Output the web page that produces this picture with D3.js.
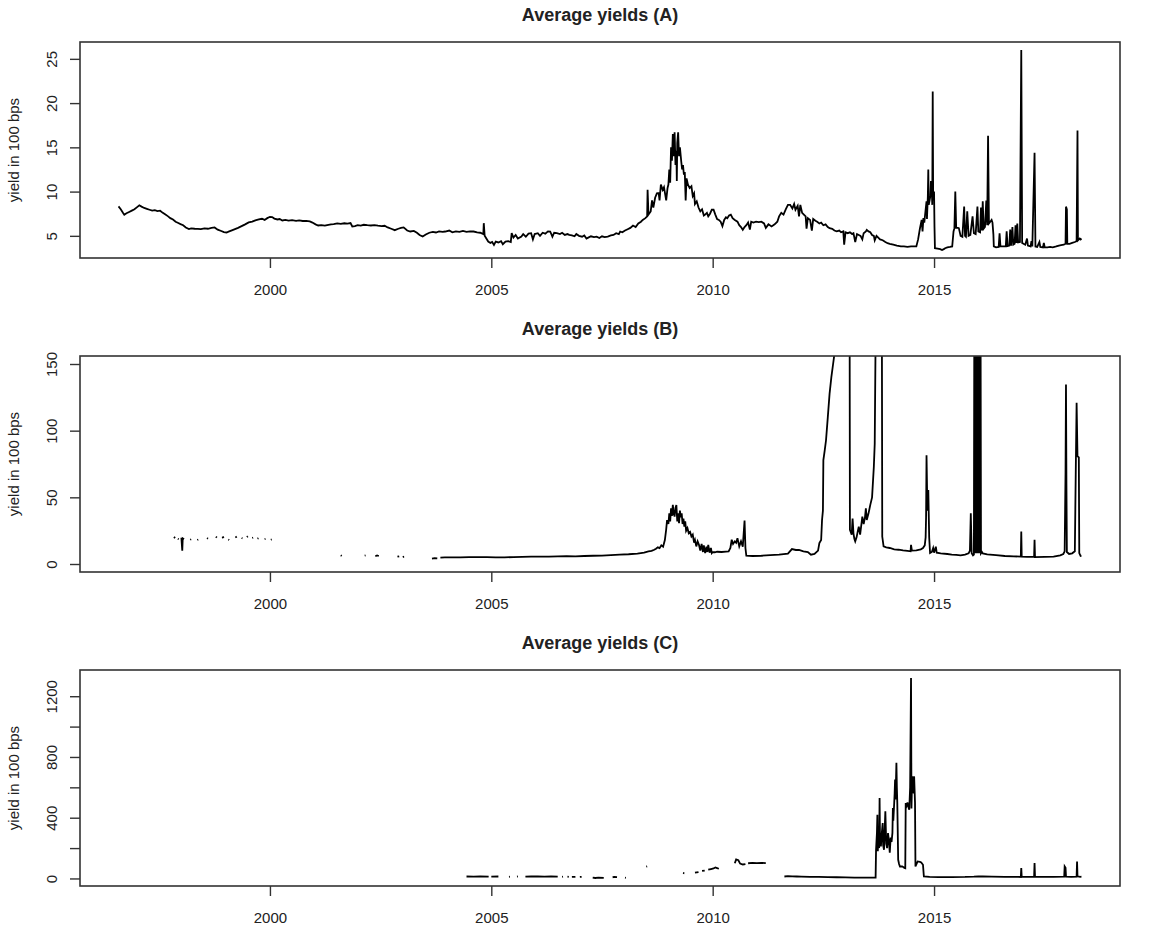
<!DOCTYPE html>
<html>
<head>
<meta charset="utf-8">
<script src="https://cdn.jsdelivr.net/npm/d3@7"></script>
<style>
  body { margin: 0; background: #fff; }
  text { font-family: "Liberation Sans", Arial, sans-serif; fill: #222; }
</style>
</head>
<body>
<div id="chart"></div>
<script>
const svgWidth = 1157;
const svgHeight = 928;

const margin = { left: 80, right: 37 };
const panelTops = [42, 356, 670];
const panelHeight = 216;

// x ticks (years) and y ticks for each panel
const yearTicks = [2000, 2005, 2010, 2015];
const ticksA = [5, 10, 15, 20, 25];
const ticksB = [0, 50, 100, 150];
const ticksC = [0, 200, 400, 600, 800, 1000, 1200];
const labelledC = [0, 400, 800, 1200];
const ylimB = [0, 150];

const titles = ["Average yields (A)", "Average yields (B)", "Average yields (C)"];
const yTitle = "yield in 100 bps";

// [year, yield]; null = missing value (gap in the line)
const seriesA = [
  [1996.58, 8.33], [1996.63, 8.0], [1996.68, 7.6], [1996.71, 7.39], [1996.76, 7.55], [1996.82, 7.7],
  [1996.88, 7.85], [1996.94, 8.0], [1997.0, 8.25], [1997.05, 8.45], [1997.1, 8.3], [1997.16, 8.15],
  [1997.22, 8.05], [1997.28, 7.95], [1997.34, 7.85], [1997.4, 7.9], [1997.46, 7.8], [1997.52, 7.84],
  [1997.58, 7.6], [1997.64, 7.4], [1997.7, 7.2], [1997.75, 7.0], [1997.81, 6.85], [1997.87, 6.6],
  [1997.93, 6.45], [1997.98, 6.33], [1998.04, 6.2], [1998.1, 5.95], [1998.17, 5.76], [1998.22, 5.85],
  [1998.3, 5.8], [1998.37, 5.78], [1998.44, 5.76], [1998.52, 5.85], [1998.6, 5.8], [1998.68, 5.9],
  [1998.75, 5.95], [1998.82, 5.7], [1998.9, 5.55], [1998.96, 5.42], [1999.02, 5.38], [1999.08, 5.5],
  [1999.14, 5.62], [1999.21, 5.76], [1999.28, 5.9], [1999.36, 6.1], [1999.44, 6.3], [1999.52, 6.52],
  [1999.6, 6.6], [1999.67, 6.75], [1999.75, 6.85], [1999.82, 6.93], [1999.88, 6.8], [1999.94, 7.0],
  [2000.0, 7.15], [2000.05, 7.12], [2000.1, 6.95], [2000.17, 6.85], [2000.22, 6.9], [2000.28, 6.74],
  [2000.35, 6.8], [2000.42, 6.72], [2000.5, 6.78], [2000.59, 6.7], [2000.66, 6.75], [2000.74, 6.68],
  [2000.82, 6.7], [2000.9, 6.63], [2000.96, 6.5], [2001.03, 6.3], [2001.09, 6.17], [2001.16, 6.22],
  [2001.24, 6.15], [2001.32, 6.25], [2001.38, 6.3], [2001.44, 6.33], [2001.52, 6.4], [2001.6, 6.35],
  [2001.68, 6.42], [2001.75, 6.38], [2001.82, 6.44], [2001.86, 6.06], [2001.92, 6.1], [2001.98, 6.2],
  [2002.05, 6.15], [2002.12, 6.25], [2002.2, 6.2], [2002.28, 6.17], [2002.36, 6.22], [2002.44, 6.15],
  [2002.52, 6.1], [2002.59, 6.14], [2002.66, 5.95], [2002.74, 5.8], [2002.82, 5.64], [2002.9, 5.8],
  [2002.96, 5.9], [2003.02, 5.95], [2003.1, 5.6], [2003.17, 5.49], [2003.25, 5.55], [2003.32, 5.35],
  [2003.38, 5.1], [2003.45, 4.92], [2003.52, 5.15], [2003.6, 5.35], [2003.68, 5.45], [2003.75, 5.38],
  [2003.82, 5.5], [2003.9, 5.45], [2003.96, 5.49], [2004.05, 5.6], [2004.12, 5.4], [2004.2, 5.5],
  [2004.28, 5.45], [2004.36, 5.55], [2004.44, 5.45], [2004.52, 5.5], [2004.6, 5.49], [2004.68, 5.4],
  [2004.75, 5.35], [2004.82, 5.2], [2004.83, 6.43], [2004.85, 5.0], [2004.93, 4.35], [2004.98, 4.2],
  [2005.02, 4.3], [2005.06, 3.98], [2005.1, 4.35], [2005.16, 4.25], [2005.22, 4.4], [2005.26, 4.05],
  [2005.32, 4.35], [2005.38, 4.4], [2005.44, 4.3], [2005.46, 5.3], [2005.5, 4.8], [2005.55, 5.1],
  [2005.6, 4.7], [2005.68, 4.92], [2005.72, 5.2], [2005.78, 4.9], [2005.84, 5.25], [2005.9, 5.3],
  [2005.94, 4.6], [2005.98, 5.2], [2006.05, 5.3], [2006.1, 5.0], [2006.16, 5.35], [2006.22, 5.25],
  [2006.28, 5.5], [2006.33, 5.49], [2006.38, 4.9], [2006.42, 5.35], [2006.48, 5.3], [2006.55, 5.2],
  [2006.6, 5.35], [2006.66, 5.1], [2006.72, 5.2], [2006.76, 5.11], [2006.82, 5.05], [2006.88, 4.95],
  [2006.92, 5.2], [2006.98, 5.0], [2007.05, 4.9], [2007.1, 5.05], [2007.15, 4.7], [2007.19, 4.8],
  [2007.25, 4.95], [2007.32, 4.85], [2007.38, 4.9], [2007.44, 4.75], [2007.5, 4.95], [2007.56, 4.85],
  [2007.63, 4.92], [2007.7, 5.05], [2007.76, 5.1], [2007.82, 5.3], [2007.88, 5.2], [2007.91, 5.49],
  [2007.96, 5.4], [2008.02, 5.6], [2008.08, 5.75], [2008.14, 5.9], [2008.2, 6.17], [2008.26, 6.0],
  [2008.32, 6.4], [2008.38, 6.6], [2008.42, 6.8], [2008.48, 7.0], [2008.52, 7.2], [2008.53, 10.2],
  [2008.55, 7.4], [2008.6, 7.76], [2008.63, 9.0], [2008.66, 8.2], [2008.7, 9.3], [2008.74, 9.8],
  [2008.78, 9.84], [2008.8, 9.0], [2008.83, 10.8], [2008.87, 10.2], [2008.9, 10.5], [2008.93, 9.6],
  [2008.95, 9.0], [2008.98, 10.4], [2009.0, 10.8], [2009.02, 12.5], [2009.04, 11.0], [2009.06, 15.0],
  [2009.08, 13.5], [2009.1, 16.5], [2009.12, 14.0], [2009.14, 16.7], [2009.16, 13.0], [2009.18, 14.6],
  [2009.19, 11.2], [2009.2, 15.5], [2009.22, 16.7], [2009.24, 14.0], [2009.26, 15.0], [2009.29, 13.4],
  [2009.31, 12.5], [2009.33, 13.0], [2009.35, 11.9], [2009.37, 12.2], [2009.39, 9.0], [2009.41, 11.5],
  [2009.44, 10.8], [2009.48, 10.4], [2009.52, 10.6], [2009.55, 9.5], [2009.58, 9.8], [2009.6, 8.6],
  [2009.64, 8.9], [2009.68, 8.2], [2009.72, 7.76], [2009.76, 8.0], [2009.8, 7.3], [2009.83, 7.4],
  [2009.87, 7.6], [2009.9, 7.2], [2009.94, 7.5], [2009.98, 7.95], [2010.02, 7.95], [2010.06, 7.4],
  [2010.1, 6.9], [2010.14, 6.8], [2010.18, 6.6], [2010.22, 6.1], [2010.26, 6.8], [2010.3, 7.1],
  [2010.33, 7.0], [2010.37, 7.3], [2010.41, 7.4], [2010.45, 7.0], [2010.5, 6.8], [2010.56, 6.6],
  [2010.6, 6.2], [2010.64, 6.0], [2010.68, 5.68], [2010.72, 6.0], [2010.76, 6.2], [2010.8, 6.5],
  [2010.84, 5.7], [2010.87, 6.6], [2010.92, 6.5], [2010.98, 6.6], [2011.04, 6.55], [2011.1, 6.6],
  [2011.16, 6.4], [2011.2, 5.9], [2011.26, 6.3], [2011.33, 6.06], [2011.4, 6.3], [2011.46, 6.6],
  [2011.5, 7.2], [2011.55, 7.6], [2011.6, 7.4], [2011.65, 8.0], [2011.7, 8.5], [2011.75, 8.5],
  [2011.8, 8.1], [2011.84, 8.6], [2011.87, 7.95], [2011.92, 8.4], [2011.95, 7.2], [2011.98, 8.5],
  [2012.02, 7.6], [2012.06, 7.4], [2012.1, 7.2], [2012.12, 5.8], [2012.15, 7.0], [2012.2, 6.8],
  [2012.24, 5.6], [2012.27, 6.9], [2012.32, 6.7], [2012.36, 6.6], [2012.41, 6.4], [2012.45, 6.5],
  [2012.5, 6.2], [2012.55, 6.3], [2012.6, 6.0], [2012.64, 5.87], [2012.7, 5.8], [2012.75, 5.6],
  [2012.8, 5.5], [2012.86, 5.6], [2012.9, 5.4], [2012.95, 5.5], [2012.97, 4.0], [2013.0, 5.4],
  [2013.05, 5.3], [2013.1, 5.4], [2013.15, 5.2], [2013.18, 5.3], [2013.22, 4.3], [2013.26, 5.2],
  [2013.3, 5.1], [2013.34, 5.0], [2013.38, 4.6], [2013.41, 5.3], [2013.46, 5.5], [2013.48, 5.68],
  [2013.52, 5.5], [2013.56, 5.4], [2013.6, 5.1], [2013.64, 5.0], [2013.66, 4.5], [2013.7, 5.0],
  [2013.74, 4.8], [2013.78, 4.6], [2013.84, 4.5], [2013.9, 4.3], [2013.95, 4.17], [2014.0, 4.1],
  [2014.08, 4.0], [2014.16, 3.9], [2014.25, 3.8], [2014.32, 3.8], [2014.4, 3.75], [2014.48, 3.8],
  [2014.55, 3.8], [2014.6, 3.8], [2014.64, 4.6], [2014.68, 5.8], [2014.72, 6.8], [2014.74, 5.5],
  [2014.76, 7.0], [2014.78, 6.5], [2014.8, 7.5], [2014.83, 8.9], [2014.84, 6.9], [2014.86, 9.5],
  [2014.87, 12.5], [2014.88, 8.5], [2014.9, 9.0], [2014.92, 9.6], [2014.93, 11.2], [2014.95, 10.0],
  [2014.96, 8.5], [2014.97, 21.3], [2014.98, 9.0], [2015.0, 10.0], [2015.01, 6.0], [2015.02, 3.6],
  [2015.08, 3.55], [2015.14, 3.5], [2015.18, 3.4], [2015.22, 3.5], [2015.25, 3.6], [2015.3, 3.7],
  [2015.36, 3.75], [2015.41, 3.8], [2015.44, 5.5], [2015.46, 5.87], [2015.48, 10.0], [2015.5, 5.9],
  [2015.54, 5.9], [2015.56, 5.87], [2015.6, 5.0], [2015.64, 4.9], [2015.68, 8.3], [2015.7, 5.0],
  [2015.72, 4.9], [2015.75, 7.76], [2015.78, 5.0], [2015.82, 5.1], [2015.87, 7.2], [2015.9, 5.3],
  [2015.94, 5.2], [2015.98, 8.3], [2016.0, 5.5], [2016.04, 5.4], [2016.06, 8.2], [2016.08, 5.6],
  [2016.1, 8.9], [2016.12, 5.8], [2016.15, 6.0], [2016.18, 9.0], [2016.2, 6.2], [2016.22, 16.3],
  [2016.24, 6.4], [2016.27, 6.6], [2016.3, 6.8], [2016.32, 6.5], [2016.34, 5.2], [2016.35, 3.8],
  [2016.4, 3.7], [2016.46, 3.75], [2016.48, 5.3], [2016.5, 3.8], [2016.56, 3.8], [2016.62, 3.8],
  [2016.64, 5.5], [2016.66, 3.85], [2016.7, 3.9], [2016.72, 5.7], [2016.74, 3.9], [2016.77, 6.0],
  [2016.79, 4.0], [2016.82, 4.1], [2016.84, 6.2], [2016.86, 4.2], [2016.88, 6.4], [2016.9, 4.25],
  [2016.94, 4.3], [2016.97, 26.0], [2016.99, 4.2], [2017.02, 4.1], [2017.06, 4.0], [2017.1, 4.7],
  [2017.12, 3.9], [2017.16, 3.85], [2017.18, 3.8], [2017.2, 4.4], [2017.22, 3.8], [2017.27, 14.4],
  [2017.29, 3.8], [2017.33, 3.75], [2017.38, 4.3], [2017.4, 3.75], [2017.46, 3.7], [2017.48, 4.2],
  [2017.5, 3.7], [2017.56, 3.7], [2017.62, 3.75], [2017.68, 3.7], [2017.72, 3.75], [2017.76, 3.8],
  [2017.82, 3.9], [2017.87, 3.95], [2017.93, 4.0], [2017.97, 4.1], [2017.98, 8.3], [2018.0, 8.0],
  [2018.01, 4.1], [2018.06, 4.1], [2018.12, 4.2], [2018.18, 4.3], [2018.22, 4.4], [2018.24, 16.9],
  [2018.25, 4.5], [2018.29, 4.7], [2018.31, 4.6], [2018.33, 4.7]
];

const seriesB = [
  [1997.83, 20.2], [1997.86, 19.5], [1997.88, null],
  [1997.92, 19.0], [1997.94, 18.6], [1997.96, null],
  [1998.0, 19.8], [1998.02, 10.0], [1998.03, 19.2], [1998.06, 18.5], [1998.08, null],
  [1998.2, 18.2], [1998.22, 18.6], [1998.24, null],
  [1998.36, 18.0], [1998.38, 18.4], [1998.4, null],
  [1998.58, 19.5], [1998.6, 19.0], [1998.62, null],
  [1998.78, 20.5], [1998.8, 19.8], [1998.82, null],
  [1998.92, 19.6], [1998.96, 20.4], [1998.98, null],
  [1999.06, 18.4], [1999.08, 18.0], [1999.1, null],
  [1999.22, 19.8], [1999.25, 20.6], [1999.27, null],
  [1999.36, 19.5], [1999.38, 19.2], [1999.4, null],
  [1999.48, 20.2], [1999.5, 20.8], [1999.52, null],
  [1999.6, 19.5], [1999.62, 19.8], [1999.64, null],
  [1999.72, 19.0], [1999.74, 19.4], [1999.76, null],
  [1999.88, 18.6], [1999.9, 18.8], [1999.92, null],
  [2000.02, 18.2], [2000.04, 18.5], [2000.06, null],
  [2001.6, 6.5], [2001.62, 6.0], [2001.64, null],
  [2002.14, 6.2], [2002.16, 6.4], [2002.18, null],
  [2002.38, 5.8], [2002.42, 6.4], [2002.46, 6.0], [2002.48, null],
  [2002.88, 5.5], [2002.92, 5.8], [2002.95, null],
  [2003.0, 5.2], [2003.03, 5.6], [2003.05, null],
  [2003.66, 4.0], [2003.72, 4.4], [2003.78, 4.2], [2003.8, null],
  [2003.85, 4.8], [2003.95, 5.0], [2004.1, 4.9], [2004.3, 5.0], [2004.5, 5.1], [2004.7, 5.2],
  [2004.9, 5.1], [2005.1, 4.9], [2005.3, 5.0], [2005.5, 5.2], [2005.7, 5.4], [2005.9, 5.5],
  [2006.1, 5.6], [2006.3, 5.5], [2006.5, 5.7], [2006.7, 5.8], [2006.9, 5.7], [2007.1, 6.0],
  [2007.3, 6.2], [2007.5, 6.3], [2007.7, 6.7], [2007.9, 7.0], [2008.1, 7.3], [2008.3, 7.8],
  [2008.45, 8.6], [2008.55, 9.5], [2008.62, 9.8], [2008.68, 10.7], [2008.72, 11.5], [2008.76, 12.5],
  [2008.8, 11.9], [2008.84, 14], [2008.88, 13], [2008.92, 18], [2008.95, 26], [2008.97, 33],
  [2009.0, 30], [2009.02, 38], [2009.04, 32], [2009.06, 41.8], [2009.08, 36], [2009.1, 44.3],
  [2009.12, 38], [2009.14, 35.6], [2009.16, 42], [2009.18, 44.3], [2009.2, 32], [2009.22, 38],
  [2009.24, 30.6], [2009.26, 40], [2009.28, 35], [2009.3, 38], [2009.32, 30], [2009.34, 34],
  [2009.36, 28], [2009.38, 32], [2009.4, 25], [2009.43, 27], [2009.46, 23], [2009.49, 24],
  [2009.52, 20.6], [2009.55, 22], [2009.58, 16], [2009.6, 18], [2009.63, 13.2], [2009.66, 17],
  [2009.69, 14.4], [2009.72, 10], [2009.75, 15], [2009.78, 9], [2009.8, 14], [2009.83, 8.2],
  [2009.86, 13], [2009.88, 9], [2009.9, 14.4], [2009.93, 8.5], [2009.96, 12], [2009.98, 8.2],
  [2010.0, 9.0], [2010.05, 8.8], [2010.1, 9.2], [2010.2, 9.0], [2010.3, 9.3], [2010.36, 9.5],
  [2010.4, 12], [2010.43, 18.2], [2010.46, 15], [2010.5, 17], [2010.53, 16], [2010.56, 19.4],
  [2010.6, 13.2], [2010.64, 17], [2010.68, 13], [2010.72, 32.6], [2010.74, 12], [2010.76, 6.2],
  [2010.9, 6.0], [2011.1, 6.2], [2011.3, 6.6], [2011.5, 7.0], [2011.7, 7.8], [2011.79, 11.2],
  [2011.88, 10.5], [2011.95, 10.5], [2012.05, 9.5], [2012.15, 9.0], [2012.22, 7.0], [2012.3, 7.5],
  [2012.38, 10], [2012.41, 15.7], [2012.45, 18], [2012.47, 33], [2012.49, 40], [2012.5, 78],
  [2012.53, 85], [2012.56, 92.8], [2012.6, 110], [2012.64, 127.6], [2012.68, 140], [2012.72, 150],
  [2012.76, 160], [2012.85, 190], [2013.0, 230], [2013.09, 260], [2013.1, 25.6], [2013.14, 22],
  [2013.16, 34], [2013.18, 23], [2013.2, 19], [2013.22, 17], [2013.25, 20], [2013.28, 25],
  [2013.3, 28], [2013.33, 22], [2013.36, 30], [2013.38, 35.6], [2013.41, 30], [2013.44, 35],
  [2013.46, 41.8], [2013.48, 33], [2013.52, 38], [2013.56, 44.3], [2013.6, 50], [2013.64, 72.9],
  [2013.66, 90], [2013.68, 170], [2013.76, 230], [2013.82, 210], [2013.83, 20.6], [2013.86, 13.2],
  [2013.92, 12.5], [2014.0, 12], [2014.1, 11], [2014.2, 10.7], [2014.3, 10.2], [2014.4, 9.8],
  [2014.47, 9.5], [2014.48, 14.4], [2014.5, 10.0], [2014.6, 10.2], [2014.7, 11], [2014.75, 12],
  [2014.79, 14], [2014.81, 20], [2014.82, 35], [2014.83, 81.6], [2014.85, 40], [2014.87, 55.5],
  [2014.89, 20], [2014.91, 8.2], [2014.95, 9], [2014.98, 12], [2015.0, 8.5], [2015.04, 13],
  [2015.06, 8.5], [2015.15, 8.0], [2015.3, 7.5], [2015.4, 7.0], [2015.5, 6.8], [2015.6, 6.5],
  [2015.7, 7.0], [2015.78, 8.0], [2015.81, 10], [2015.83, 38], [2015.85, 8], [2015.88, 6.5],
  [2015.9, 7], [2015.91, 200], [2015.92, 10], [2015.93, 200], [2015.94, 8], [2015.95, 200],
  [2015.96, 9], [2015.97, 200], [2015.98, 8], [2015.99, 200], [2016.0, 10], [2016.01, 200],
  [2016.02, 8], [2016.03, 200], [2016.04, 9], [2016.05, 200], [2016.06, 8], [2016.08, 9],
  [2016.1, 8], [2016.2, 7.2], [2016.4, 6.6], [2016.6, 6.0], [2016.8, 5.7], [2016.96, 5.6],
  [2016.97, 24.4], [2016.98, 5.5], [2017.1, 5.4], [2017.26, 5.3], [2017.27, 18.2], [2017.28, 5.2],
  [2017.5, 5.3], [2017.7, 5.5], [2017.85, 6.5], [2017.92, 7.5], [2017.95, 9.5], [2017.97, 69],
  [2017.98, 134.6], [2017.99, 60], [2018.0, 9.0], [2018.05, 7.5], [2018.12, 8], [2018.18, 9.5],
  [2018.2, 67], [2018.22, 121], [2018.24, 80.8], [2018.27, 80], [2018.28, 8.2], [2018.31, 6],
  [2018.33, 6.2]
];

const seriesC = [
  [2004.44, 13], [2004.6, 12], [2004.75, 14], [2004.94, 12], [2004.96, null],
  [2005.0, 12], [2005.16, 13], [2005.18, null],
  [2005.4, 11], [2005.42, 12], [2005.44, null],
  [2005.58, 12], [2005.6, 13], [2005.62, null],
  [2005.77, 12], [2005.9, 14], [2006.05, 13], [2006.2, 12], [2006.35, 13], [2006.5, 12], [2006.52, null],
  [2006.6, 11], [2006.62, 12], [2006.64, null],
  [2006.72, 12], [2006.75, 11], [2006.77, null],
  [2006.82, 10], [2006.9, 11], [2006.92, null],
  [2007.0, 10], [2007.04, 11], [2007.06, null],
  [2007.29, 6], [2007.35, 3], [2007.42, 5], [2007.54, 4], [2007.56, null],
  [2007.74, 8], [2007.78, 10], [2007.84, 9], [2007.86, null],
  [2008.02, 5], [2008.04, 4], [2008.06, null],
  [2008.5, 78], [2008.52, 80], [2008.54, null],
  [2009.33, 36], [2009.36, 34], [2009.38, null],
  [2009.6, 38], [2009.68, 42], [2009.7, null],
  [2009.76, 50], [2009.82, 52], [2009.84, null],
  [2009.9, 58], [2009.96, 62], [2010.02, 66], [2010.06, 72], [2010.1, 68], [2010.14, 64], [2010.16, null],
  [2010.5, 100], [2010.53, 125], [2010.58, 120], [2010.62, 98], [2010.68, 92], [2010.74, 95], [2010.76, null],
  [2010.8, 100], [2010.9, 102], [2011.0, 101], [2011.1, 103], [2011.2, 101], [2011.22, null],
  [2011.62, 13], [2011.7, 15], [2011.8, 14], [2011.9, 13], [2012.0, 12], [2012.2, 11], [2012.4, 10],
  [2012.6, 9], [2012.8, 8], [2013.0, 7], [2013.2, 6], [2013.4, 5], [2013.6, 5], [2013.68, 6],
  [2013.69, 189], [2013.71, 300], [2013.72, 420], [2013.73, 180], [2013.74, 255], [2013.76, 200],
  [2013.77, 530], [2013.78, 240], [2013.8, 211], [2013.82, 300], [2013.84, 365], [2013.85, 220],
  [2013.87, 189], [2013.88, 280], [2013.9, 442], [2013.92, 230], [2013.94, 200], [2013.96, 299],
  [2013.98, 250], [2014.0, 169], [2014.02, 270], [2014.04, 240], [2014.06, 300], [2014.07, 464],
  [2014.08, 380], [2014.1, 497], [2014.11, 560], [2014.12, 651], [2014.13, 520], [2014.15, 761],
  [2014.16, 600], [2014.17, 497], [2014.19, 123], [2014.21, 95], [2014.23, 79], [2014.28, 80],
  [2014.33, 70], [2014.35, 68], [2014.36, 497], [2014.38, 480], [2014.4, 500], [2014.42, 470],
  [2014.44, 453], [2014.46, 600], [2014.48, 1320], [2014.49, 460], [2014.5, 600], [2014.52, 672],
  [2014.54, 560], [2014.55, 672], [2014.57, 500], [2014.58, 79], [2014.63, 112], [2014.68, 110],
  [2014.71, 105], [2014.75, 90], [2014.77, 13], [2014.9, 10], [2015.1, 9], [2015.4, 9],
  [2015.7, 10], [2015.9, 12], [2016.0, 14], [2016.1, 13], [2016.3, 12], [2016.6, 11],
  [2016.9, 11], [2016.96, 10], [2016.97, 68], [2016.98, 10], [2017.1, 10], [2017.26, 10],
  [2017.27, 101], [2017.28, 12], [2017.5, 10], [2017.7, 10], [2017.94, 12], [2017.95, 79],
  [2017.97, 70], [2017.98, 12], [2018.1, 11], [2018.22, 12], [2018.23, 112], [2018.24, 14],
  [2018.3, 11], [2018.33, 12]
];

// R style axis range: data range widened by 4% on each side
function rRange(ext) {
  var pad = 0.04 * (ext[1] - ext[0]);
  return [ext[0] - pad, ext[1] + pad];
}

var width = svgWidth - margin.left - margin.right;

var svg = d3.select("#chart")
  .append("svg")
  .attr("width", svgWidth)
  .attr("height", svgHeight);

var xScale = d3.scaleLinear()
  .domain(rRange(d3.extent(seriesA, d => d[0])))
  .range([margin.left, margin.left + width]);

var panels = [
  { title: titles[0], data: seriesA, ticks: ticksA, labels: ticksA,
    domain: rRange(d3.extent(seriesA.filter(d => d[1] != null), d => d[1])) },
  { title: titles[1], data: seriesB, ticks: ticksB, labels: ticksB,
    domain: rRange(ylimB) },
  { title: titles[2], data: seriesC, ticks: ticksC, labels: labelledC,
    domain: rRange(d3.extent(seriesC.filter(d => d[1] != null), d => d[1])) }
];

panels.forEach(function(p, i) {
  var g = svg.append("g")
    .attr("transform", `translate(0, ${panelTops[i]})`);

  var yScale = d3.scaleLinear()
    .domain(p.domain)
    .range([panelHeight, 0]);

  // clip the series to the plot box
  g.append("clipPath")
    .attr("id", "clip" + i)
    .append("rect")
    .attr("x", margin.left)
    .attr("y", 0)
    .attr("width", width)
    .attr("height", panelHeight);

  var line = d3.line()
    .defined(d => d[1] != null)
    .x(d => xScale(d[0]))
    .y(d => yScale(d[1]));

  g.append("path")
    .datum(p.data)
    .attr("clip-path", `url(#clip${i})`)
    .attr("fill", "none")
    .attr("stroke", "#000")
    .attr("stroke-width", 1.8)
    .attr("stroke-linejoin", "miter")
    .attr("d", line);

  // plot box
  g.append("rect")
    .attr("x", margin.left)
    .attr("y", 0)
    .attr("width", width)
    .attr("height", panelHeight)
    .attr("fill", "none")
    .attr("stroke", "#333")
    .attr("stroke-width", 1.6);

  // y axis, labels parallel to the axis
  var yAxis = g.append("g")
    .attr("transform", `translate(${margin.left}, 0)`)
    .call(d3.axisLeft(yScale)
      .tickValues(p.ticks)
      .tickSize(10)
      .tickFormat(d => p.labels.includes(d) ? d : ""));
  yAxis.select(".domain").remove();
  yAxis.selectAll("line").attr("stroke", "#333").attr("stroke-width", 1.4);
  yAxis.selectAll("text")
    .attr("x", 0)
    .attr("dy", "0.35em")
    .attr("text-anchor", "middle")
    .attr("transform", "translate(-28.5, 0) rotate(-90)")
    .style("font-size", "15px")
    .style("font-family", "'Liberation Sans', Arial, sans-serif")
    .attr("fill", "#222");

  // x axis
  var xAxis = g.append("g")
    .attr("transform", `translate(0, ${panelHeight})`)
    .call(d3.axisBottom(xScale)
      .tickValues(yearTicks)
      .tickSize(10)
      .tickPadding(16)
      .tickFormat(d3.format("d")));
  xAxis.select(".domain").remove();
  xAxis.selectAll("line").attr("stroke", "#333").attr("stroke-width", 1.4);
  xAxis.selectAll("text")
    .style("font-size", "15px")
    .style("font-family", "'Liberation Sans', Arial, sans-serif")
    .attr("fill", "#222");

  // title
  g.append("text")
    .attr("x", margin.left + width / 2)
    .attr("y", -21)
    .attr("text-anchor", "middle")
    .style("font-size", "18px")
    .style("font-weight", "bold")
    .text(p.title);

  // y axis title
  g.append("text")
    .attr("transform", `translate(19, ${panelHeight / 2}) rotate(-90)`)
    .attr("text-anchor", "middle")
    .style("font-size", "15px")
    .text(yTitle);
});
</script>
</body>
</html>
